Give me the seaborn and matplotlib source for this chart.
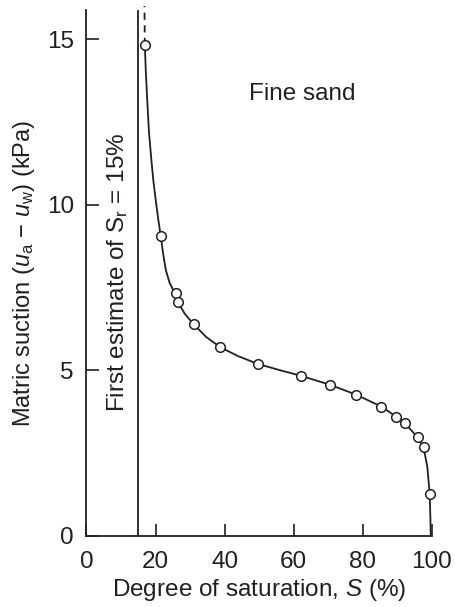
import numpy as np
import pandas as pd
import matplotlib
matplotlib.use("Agg")
import matplotlib.pyplot as plt
import seaborn as sns

# measured points (degree of saturation %, matric suction kPa)
sat_pts = [16.9, 21.5, 25.9, 26.5, 31.0, 38.8, 49.6, 62.1, 70.5, 78.1,
           85.4, 89.6, 92.2, 95.9, 97.6, 99.4]
suction_pts = [14.82, 9.06, 7.32, 7.05, 6.39, 5.69, 5.19, 4.83, 4.56, 4.26,
               3.90, 3.60, 3.40, 2.97, 2.67, 1.25]

# fitted curve
curve_sat = [16.9, 17.2, 17.6, 18.1, 18.8, 19.4, 20.1, 20.8, 21.5, 22.2, 23.0,
             24.1, 25.0, 25.9, 26.5, 28.5, 31.0, 34.7, 38.8, 44.0, 49.6, 56.0,
             62.1, 70.5, 78.1, 85.4, 89.6, 92.2, 95.9, 97.6, 98.7, 99.4, 99.6, 99.7]
curve_suction = [14.82, 14.0, 13.16, 12.2, 11.35, 10.7, 10.1, 9.55, 9.06, 8.52, 8.02,
                 7.63, 7.45, 7.32, 7.05, 6.70, 6.39, 6.00, 5.69, 5.42, 5.19, 5.00,
                 4.83, 4.56, 4.26, 3.90, 3.60, 3.40, 2.97, 2.67, 2.08, 1.25, 0.5, 0.0]

# dashed extension above the first point
ext_sat = [16.9, 16.8]
ext_suction = [14.82, 16.0]

sr_estimate = 15
ink = "#231f20"
fs = 17.5

sns.set_style("ticks")
plt.rcParams["font.family"] = ["Liberation Sans", "DejaVu Sans"]
plt.rcParams["mathtext.fontset"] = "custom"
plt.rcParams["mathtext.rm"] = "Liberation Sans"
plt.rcParams["mathtext.it"] = "Liberation Sans:italic"

fig = plt.figure(figsize=(4.55, 6.07), dpi=100)
ax = fig.add_axes([0.19, 0.1175, 0.759, 0.866])

curve = pd.DataFrame({"S": curve_sat, "suction": curve_suction})
sns.lineplot(data=curve, x="S", y="suction", sort=False, estimator=None,
             color=ink, lw=1.3, ax=ax)
ax.plot(ext_sat, ext_suction, color=ink, lw=1.3, ls=(0, (4, 3)), clip_on=False)

pts = pd.DataFrame({"S": sat_pts, "suction": suction_pts})
sns.scatterplot(data=pts, x="S", y="suction", marker="o", s=48, color="white",
                edgecolor=ink, linewidth=1.1, zorder=5, clip_on=False, ax=ax)

ax.axvline(sr_estimate, color=ink, lw=1.3, ymin=0, ymax=1)

ax.text(62.6, 13.35, "Fine sand", fontsize=fs, ha="center", va="center", color=ink)
ax.text(9.0, 7.95, r"First estimate of $\mathrm{S}_\mathrm{r}$ = 15%", fontsize=fs,
        rotation=90, ha="center", va="center", color=ink)

ax.set_xlim(0, 100)
ax.set_ylim(0, 15.88)
ax.set_xticks([0, 20, 40, 60, 80, 100])
ax.set_yticks([0, 5, 10, 15])
ax.tick_params(axis="both", direction="in", length=9, width=1.2, colors=ink,
               labelsize=fs, labelcolor=ink)
ax.tick_params(axis="x", pad=11)
ax.tick_params(axis="y", pad=9)

ax.set_xlabel(r"Degree of saturation, $S$ (%)", fontsize=fs, color=ink, labelpad=3)
ax.set_ylabel(r"Matric suction ($u_\mathrm{a}$ − $u_\mathrm{w}$) (kPa)", fontsize=17,
              color=ink, labelpad=7)

sns.despine(ax=ax)
for side in ["left", "bottom"]:
    ax.spines[side].set_linewidth(1.3)
    ax.spines[side].set_color(ink)

fig.savefig("out.png", dpi=100)
